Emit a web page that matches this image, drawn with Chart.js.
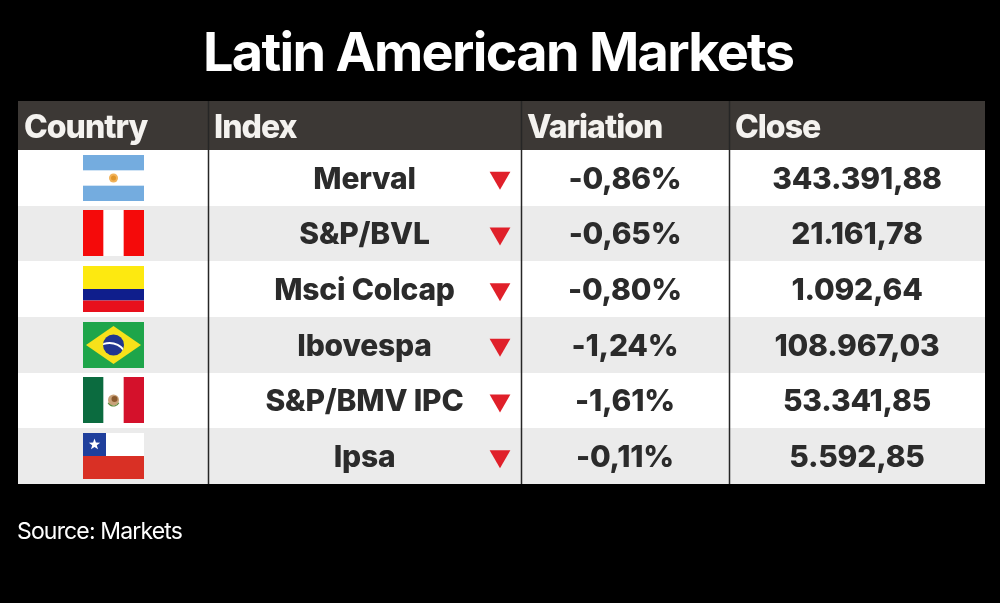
<!DOCTYPE html>
<html>
<head>
<meta charset="utf-8">
<script src="https://cdn.jsdelivr.net/npm/chart.js@4.4.1/dist/chart.umd.min.js"></script>
<style>
  html, body { margin: 0; padding: 0; background: #000; }
  #wrap { width: 1000px; height: 603px; position: relative; }
</style>
</head>
<body>
<div id="wrap"><canvas id="chart"></canvas></div>
<script>
// table contents
const headers = ["Country", "Index", "Variation", "Close"];
const countries = ["Argentina", "Peru", "Colombia", "Brazil", "Mexico", "Chile"];
const indexNames = ["Merval", "S&P/BVL", "Msci Colcap", "Ibovespa", "S&P/BMV IPC", "Ipsa"];
const variation = [-0.86, -0.65, -0.80, -1.24, -1.61, -0.11];
const closes = [343391.88, 21161.78, 1092.64, 108967.03, 53341.85, 5592.85];
const title = "Latin American Markets";
const source = "Source: Markets";

// layout (table units along x = pixels of table width)
const colEdges = [0, 190, 503, 711, 967];
const headerSpan = 0.88; // header height in row units
const arrowX = 482;
const FONT = "Inter, 'Liberation Sans', sans-serif";

function fmt(v, dec) {
  const neg = v < 0;
  let [int, frac] = Math.abs(v).toFixed(dec).split(".");
  int = int.replace(/\B(?=(\d{3})+(?!\d))/g, ".");
  return (neg ? "-" : "") + int + "," + frac;
}

function drawFlag(ctx, name, cx, cy, w, h) {
  const x = Math.round(cx - w / 2), y = Math.round(cy - h / 2);
  cx = x + w / 2; cy = y + h / 2;
  ctx.save();
  if (name === "Argentina") {
    ctx.fillStyle = "#74acdf"; ctx.fillRect(x, y, w, h);
    ctx.fillStyle = "#fff"; ctx.fillRect(x, y + h / 3, w, h / 3);
    ctx.fillStyle = "#f2b35a"; ctx.beginPath(); ctx.arc(cx, cy, 4.5, 0, Math.PI * 2); ctx.fill();
    ctx.fillStyle = "#e0952a"; ctx.beginPath(); ctx.arc(cx, cy, 2.5, 0, Math.PI * 2); ctx.fill();
  } else if (name === "Peru") {
    ctx.fillStyle = "#fff"; ctx.fillRect(x, y, w, h);
    ctx.fillStyle = "#f50a0a"; ctx.fillRect(x, y, w / 3, h); ctx.fillRect(x + 2 * w / 3, y, w / 3, h);
  } else if (name === "Colombia") {
    ctx.fillStyle = "#fde910"; ctx.fillRect(x, y, w, h / 2);
    ctx.fillStyle = "#0f1e8c"; ctx.fillRect(x, y + h / 2, w, h / 4);
    ctx.fillStyle = "#e8101c"; ctx.fillRect(x, y + 3 * h / 4, w, h / 4);
  } else if (name === "Brazil") {
    ctx.fillStyle = "#1ea54a"; ctx.fillRect(x, y, w, h);
    ctx.fillStyle = "#f7e11a"; ctx.beginPath();
    ctx.moveTo(x + 3, cy); ctx.lineTo(cx, y + 4); ctx.lineTo(x + w - 3, cy); ctx.lineTo(cx, y + h - 4); ctx.closePath(); ctx.fill();
    ctx.fillStyle = "#21358f"; ctx.beginPath(); ctx.arc(cx, cy, 10.5, 0, Math.PI * 2); ctx.fill();
    ctx.save(); ctx.beginPath(); ctx.arc(cx, cy, 10.5, 0, Math.PI * 2); ctx.clip();
    ctx.strokeStyle = "#fff"; ctx.lineWidth = 2; ctx.beginPath();
    ctx.arc(cx - 4, cy + 16, 18, -Math.PI * 0.85, -Math.PI * 0.1); ctx.stroke();
    ctx.restore();
  } else if (name === "Mexico") {
    ctx.fillStyle = "#fff"; ctx.fillRect(x, y, w, h);
    ctx.fillStyle = "#0b6b3f"; ctx.fillRect(x, y, w / 3, h);
    ctx.fillStyle = "#d4112b"; ctx.fillRect(x + 2 * w / 3, y, w / 3, h);
    ctx.fillStyle = "#c9a27a"; ctx.beginPath(); ctx.arc(cx, cy, 5.5, 0, Math.PI * 2); ctx.fill();
    ctx.fillStyle = "#8a5a2e"; ctx.beginPath(); ctx.arc(cx + 1, cy - 1, 3, 0, Math.PI * 2); ctx.fill();
    ctx.strokeStyle = "#5f8a3a"; ctx.lineWidth = 1.2; ctx.beginPath(); ctx.arc(cx, cy, 6, 0.15 * Math.PI, 0.85 * Math.PI); ctx.stroke();
  } else if (name === "Chile") {
    ctx.fillStyle = "#fff"; ctx.fillRect(x, y, w, h);
    ctx.fillStyle = "#d93025"; ctx.fillRect(x, y + h / 2, w, h / 2);
    ctx.fillStyle = "#1f3f9c"; ctx.fillRect(x, y, h / 2, h / 2);
    ctx.fillStyle = "#fff"; ctx.beginPath();
    const sx = x + h / 4, sy = y + h / 4, R = 6, r = 2.4;
    for (let k = 0; k < 10; k++) {
      const a = -Math.PI / 2 + k * Math.PI / 5, rr = k % 2 ? r : R;
      ctx.lineTo(sx + rr * Math.cos(a), sy + rr * Math.sin(a));
    }
    ctx.closePath(); ctx.fill();
  }
  ctx.restore();
}

function fitText(ctx, text, x, y, font, width) {
  ctx.font = font;
  ctx.letterSpacing = "0px";
  const w = ctx.measureText(text).width;
  ctx.letterSpacing = ((width - w) / (text.length - 1)).toFixed(2) + "px";
  ctx.fillText(text, x, y);
  ctx.letterSpacing = "0px";
}

const tablePlugin = {
  id: "table",
  beforeDatasetsDraw(chart) {
    const { ctx, scales: { x, y } } = chart;
    const left = Math.round(x.getPixelForValue(0)), right = Math.round(x.getPixelForValue(colEdges[4]));
    ctx.save();
    // header
    const hTop = Math.round(y.getPixelForValue(-headerSpan)), hBot = Math.round(y.getPixelForValue(0));
    ctx.fillStyle = "#3c3835";
    ctx.fillRect(left, hTop, right - left, hBot - hTop);
    // rows
    countries.forEach((c, i) => {
      const top = Math.round(y.getPixelForValue(i)), bot = Math.round(y.getPixelForValue(i + 1));
      ctx.fillStyle = i % 2 ? "#ebebeb" : "#ffffff";
      ctx.fillRect(left, top, right - left, bot - top);
    });
    // column rules
    ctx.strokeStyle = "#262626";
    ctx.lineWidth = 1.5;
    const tBot = Math.round(y.getPixelForValue(countries.length));
    for (let k = 1; k < colEdges.length - 1; k++) {
      const px = Math.round(x.getPixelForValue(colEdges[k])) + 0.5;
      ctx.beginPath(); ctx.moveTo(px, hTop); ctx.lineTo(px, tBot); ctx.stroke();
    }
    // header labels
    ctx.fillStyle = "#f4f2ef";
    ctx.font = "800 32px " + FONT;
    ctx.textBaseline = "alphabetic";
    ctx.textAlign = "left";
    ctx.letterSpacing = "-1px";
    headers.forEach((h, i) => {
      ctx.fillText(h, x.getPixelForValue(colEdges[i]) + 6, (hTop + hBot) / 2 + 12);
    });
    // cells
    ctx.fillStyle = "#2b2b2b";
    ctx.font = "800 30px " + FONT;
    ctx.textAlign = "center";
    ctx.letterSpacing = "-0.2px";
    const mid = k => x.getPixelForValue((colEdges[k] + colEdges[k + 1]) / 2);
    countries.forEach((c, i) => {
      const cy = y.getPixelForValue(i + 0.5);
      drawFlag(ctx, c, mid(0), cy, 61, 46);
      ctx.fillText(indexNames[i], mid(1), cy + 11);
      ctx.fillText(fmt(variation[i], 2) + "%", mid(2), cy + 11);
      ctx.fillText(fmt(closes[i], 2), mid(3), cy + 11);
    });
    ctx.restore();
  },
  afterDraw(chart) {
    const { ctx } = chart;
    ctx.save();
    ctx.fillStyle = "#fff";
    ctx.textAlign = "left";
    ctx.textBaseline = "alphabetic";
    fitText(ctx, title, 203, 71, "700 54px " + FONT, 592);
    fitText(ctx, source, 17, 539, "400 23px " + FONT, 166);
    ctx.restore();
  }
};

new Chart(document.getElementById("chart"), {
  type: "scatter",
  data: {
    datasets: [{
      label: "Variation",
      data: variation.map((v, i) => ({ x: arrowX, y: i + 0.5 })),
      pointStyle: "triangle",
      rotation: 180,
      radius: 12,
      hoverRadius: 12,
      backgroundColor: "#e0202a",
      borderWidth: 0
    }]
  },
  options: {
    responsive: true,
    maintainAspectRatio: false,
    animation: false,
    events: [],
    layout: { padding: { left: 18, right: 15, top: 101, bottom: 119 } },
    scales: {
      x: { type: "linear", min: 0, max: colEdges[4], display: false },
      y: { type: "linear", min: -headerSpan, max: countries.length, reverse: true, display: false }
    },
    plugins: { legend: { display: false }, tooltip: { enabled: false } }
  },
  plugins: [tablePlugin]
});
</script>
</body>
</html>
